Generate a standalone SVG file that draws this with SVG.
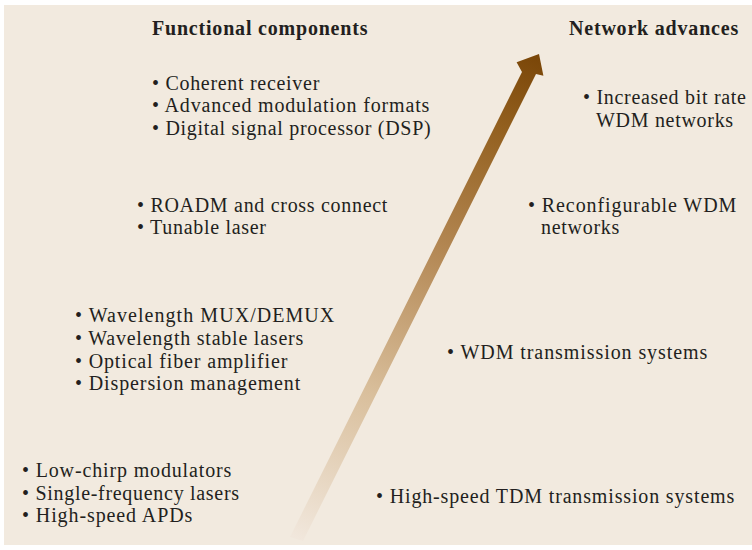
<svg xmlns="http://www.w3.org/2000/svg" width="752" height="550" viewBox="0 0 752 550">
<defs>
<linearGradient id="ag" gradientUnits="userSpaceOnUse" x1="297" y1="538" x2="538" y2="56">
<stop offset="0" stop-color="#f1e7dc"/>
<stop offset="0.3" stop-color="#d9bf9c"/>
<stop offset="0.6" stop-color="#b38753"/>
<stop offset="0.85" stop-color="#93601f"/>
<stop offset="1" stop-color="#7a4608"/>
</linearGradient>
<style>
text{font-family:"Liberation Serif","Times New Roman",serif;font-size:20px;letter-spacing:0.7px;fill:#231f20}
.h{font-weight:bold;letter-spacing:0.8px}
</style>
</defs>
<rect x="4" y="5" width="748" height="540" fill="#f2eadf"/>
<g id="connectors">
<path d="M290,537 L522,72 L516.6,62.3 L539,54 L543.4,75.7 L536,74 L303,541 Z" fill="url(#ag)"/>
</g>
<g id="header-left"><text class="h" x="152" y="35">Functional components</text></g>
<g id="header-right"><text class="h" x="569" y="35">Network advances</text></g>
<g id="fc4">
<text x="152" y="90">• Coherent receiver</text>
<text x="152" y="112" textLength="278" lengthAdjust="spacing">• Advanced modulation formats</text>
<text x="152" y="135">• Digital signal processor (DSP)</text>
</g>
<g id="fc3">
<text x="137" y="212">• ROADM and cross connect</text>
<text x="137" y="234">• Tunable laser</text>
</g>
<g id="fc2">
<text x="75" y="322" textLength="260" lengthAdjust="spacing">• Wavelength MUX/DEMUX</text>
<text x="75" y="345" textLength="229" lengthAdjust="spacing">• Wavelength stable lasers</text>
<text x="75" y="368" textLength="213" lengthAdjust="spacing">• Optical fiber amplifier</text>
<text x="75" y="390" textLength="226" lengthAdjust="spacing">• Dispersion management</text>
</g>
<g id="fc1">
<text x="22" y="477" textLength="210" lengthAdjust="spacing">• Low-chirp modulators</text>
<text x="22" y="500">• Single-frequency lasers</text>
<text x="22" y="522" textLength="171" lengthAdjust="spacing">• High-speed APDs</text>
</g>
<g id="na4">
<text x="583" y="104">• Increased bit rate</text>
<text x="596" y="127">WDM networks</text>
</g>
<g id="na3">
<text x="528" y="212" textLength="209" lengthAdjust="spacing">• Reconfigurable WDM</text>
<text x="541" y="234">networks</text>
</g>
<g id="na2"><text x="447" y="359" textLength="261" lengthAdjust="spacing">• WDM transmission systems</text></g>
<g id="na1"><text x="376" y="503" textLength="359" lengthAdjust="spacing">• High-speed TDM transmission systems</text></g>
</svg>
